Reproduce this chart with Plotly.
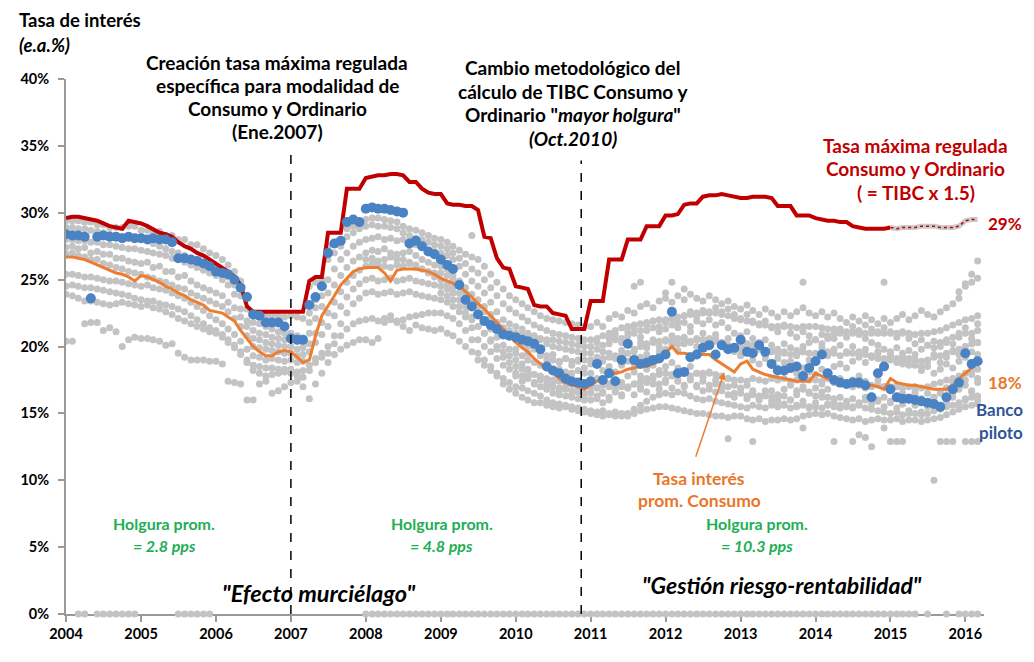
import pandas as pd
import plotly.graph_objects as go

MESES = pd.date_range("2004-01-01", "2016-03-01", freq="MS")
ANIOS = list(range(2004, 2017))
Y_TICKS = [0, 5, 10, 15, 20, 25, 30, 35, 40]
CAMBIO_1 = "2007-01-01"
CAMBIO_2 = "2010-11-16"
INICIO_PROYECCION = 132  # ene-2015: tramo punteado de la tasa máxima

# Tasa máxima regulada consumo y ordinario (e.a. %)
TASA_MAXIMA = [
    29.6, 29.7, 29.7, 29.6, 29.5, 29.4, 29.2, 29.0, 28.9, 28.8, 29.4, 29.3,
    29.2, 29.0, 28.8, 28.5, 28.4, 28.2, 27.8, 27.5, 27.3, 27.0, 26.8, 26.5,
    26.2, 25.9, 25.6, 25.2, 24.6, 23.0, 22.6, 22.6, 22.6, 22.6, 22.6, 22.6,
    22.6, 22.6, 22.6, 24.9, 25.2, 25.2, 28.5, 28.5, 28.5, 31.8, 31.8, 31.8,
    32.6, 32.7, 32.8, 32.8, 32.9, 32.9, 32.8, 32.3, 32.3, 31.8, 31.5, 31.4,
    31.4, 30.7, 30.6, 30.6, 30.5, 30.5, 30.2, 28.2, 28.1, 26.6, 25.9, 25.8,
    24.5, 24.4, 24.3, 23.1, 23.0, 23.0, 22.5, 22.4, 22.3, 21.3, 21.3, 21.3,
    23.4, 23.4, 23.4, 26.5, 26.5, 26.5, 28.0, 28.0, 28.0, 29.0, 29.0, 29.0,
    29.8, 29.8, 29.9, 30.6, 30.7, 30.7, 31.2, 31.3, 31.3, 31.4, 31.3, 31.2,
    31.1, 31.1, 31.2, 31.2, 31.2, 31.1, 30.5, 30.5, 30.5, 29.8, 29.8, 29.8,
    29.6, 29.5, 29.4, 29.4, 29.3, 29.3, 29.0, 28.9, 28.8, 28.8, 28.8, 28.8,
    28.9, 28.8, 28.9, 28.9, 28.9, 29.0, 29.0, 29.0, 28.9, 28.9, 28.9, 29.0,
    29.4, 29.5, 29.5,
]

# Tasa de interés promedio consumo
TASA_CONSUMO = [
    26.7, 26.7, 26.6, 26.5, 26.3, 26.1, 25.9, 25.7, 25.5, 25.4, 25.2, 24.9,
    25.3, 25.2, 25.0, 24.8, 24.5, 24.3, 24.0, 23.8, 23.5, 23.3, 23.1, 22.7,
    22.6, 22.5, 22.2, 21.9, 21.2, 20.6, 20.0, 19.6, 19.3, 19.3, 19.6, 19.7,
    19.6, 19.2, 18.8, 19.0, 20.8, 22.3, 23.0, 23.8, 24.6, 25.1, 25.6, 25.8,
    25.9, 25.9, 25.9, 25.5, 24.9, 25.7, 25.8, 25.8, 25.8, 25.7, 25.6, 25.4,
    25.1, 24.9, 24.7, 24.5, 24.1, 23.7, 23.2, 22.8, 22.3, 21.8, 21.3, 20.8,
    20.3, 19.9, 19.6, 19.1, 18.7, 18.4, 18.0, 17.6, 17.3, 17.1, 17.0, 16.8,
    17.1, 17.4, 17.6, 17.8, 18.0, 18.1, 18.3, 18.4, 18.5, 18.5, 18.7, 18.9,
    19.5, 20.0, 19.5, 19.5, 19.4, 19.4, 19.4, 19.4, 19.0, 18.7, 18.4, 18.1,
    18.7, 18.9, 18.3, 18.1, 17.9, 17.8, 17.7, 17.6, 17.5, 17.4, 17.4, 17.4,
    18.0, 17.8, 17.6, 17.5, 17.4, 17.4, 17.3, 17.3, 17.2, 17.1, 17.0, 16.8,
    17.6, 17.3, 17.2, 17.1, 17.1, 17.0, 16.9, 16.8, 16.8, 16.8, 17.1, 17.6,
    18.0, 18.4, None,
]

# Banco piloto
BANCO_PILOTO = [
    28.4, 28.3, 28.3, 28.2, 23.6, 28.2, 28.3, 28.2, 28.2, 28.1, 28.2, 28.1,
    28.1, 28.0, 28.1, 28.0, 28.0, 27.8, 26.6, 26.6, 26.5, 26.4, 26.2, 26.0,
    25.6, 25.5, 25.4, 25.0, 24.4, 23.7, 22.4, 22.3, 21.8, 21.8, 21.8, 21.5,
    20.6, 20.5, 20.5, 23.1, 23.7, 24.5, 27.0, 27.7, 27.9, 29.3, 29.5, 29.3,
    30.3, 30.4, 30.3, 30.3, 30.2, 30.1, 30.0, 27.7, 27.9, 27.5, 27.1, 26.9,
    26.5, 26.1, 25.8, 24.6, 23.5, 23.0, 22.4, 21.9, 21.6, 21.3, 20.9, 20.8,
    20.7, 20.5, 20.4, 20.2, 19.8, 18.5, 18.2, 18.0, 17.6, 17.4, 17.3, 17.2,
    17.4, 18.7, 17.5, 18.0, 17.4, 19.0, 20.2, 19.0, 18.7, 18.8, 19.0, 19.1,
    19.4, 22.6, 18.0, 18.1, 19.2, 19.4, 19.9, 20.1, 19.4, 20.1, 19.8, 19.9,
    20.5, 19.6, 19.5, 20.1, 19.6, 18.7, 18.2, 18.2, 18.4, 18.5, 17.8, 18.4,
    18.9, 19.4, 18.0, 17.5, 17.3, 17.2, 17.3, 17.3, 17.1, 16.2, 18.0, 18.5,
    16.8, 16.2, 16.1, 16.1, 16.0, 15.9, 15.8, 15.7, 15.5, 16.2, 16.8, 17.3,
    19.5, 18.7, 18.9,
]

# Resto de bancos (puntos grises)
BANCO_01 = [
    29.4, 29.4, 29.4, 29.3, 29.3, 29.1, 29.1, 28.9, 28.9, 28.9, 29.0, 29.0,
    28.7, 28.7, 28.6, 28.6, 28.3, 28.3, 28.0, 28.0, 27.6, 27.6, 27.3, 27.0,
    26.8, 26.5, 26.1, 25.6, 24.9, 23.6, 22.4, 22.4, 22.3, 22.3, 22.3, 22.2,
    22.3, 22.2, 22.1, 24.5, 24.8, 25.0, 27.5, 27.8, 28.0, 28.8, 29.0, 29.2,
    29.5, 29.6, 29.6, 29.5, 29.4, 29.3, 29.0, 28.8, 28.7, 28.5, 28.3, 28.1,
    28.0, 27.8, 27.5, 27.2, 26.9, 26.7, 26.5, 26.0, 25.4, 24.8, 24.3, 23.8,
    23.5, 23.2, 22.9, 22.6, 22.3, 22.1, 22.0, 21.9, 21.8, 21.7, 21.6, 21.5,
    21.5, 21.8, 21.5, 22.1, 22.4, 22.2, 22.7, 22.5, 23.0, 23.2, 22.9, 23.4,
    23.6, 23.3, 23.8, 23.5, 23.9, 23.6, 23.4, 23.8, 23.5, 23.2, 23.4, 23.0,
    22.8, 23.1, 22.7, 22.4, 22.8, 22.5, 22.2, 22.6, 22.3, 22.6, 22.9, 22.5,
    22.3, 22.6, 22.2, 22.5, 22.1, 21.8, 22.2, 21.9, 22.3, 22.0, 21.7, 22.1,
    21.8, 22.1, 22.4, 22.0, 22.3, 22.7, 22.4, 22.2, 22.6, 22.9, 23.2, 23.6,
    24.5, 24.8, 25.1,
]
BANCO_02 = [
    28.9, 28.9, 28.8, 28.8, 28.7, 28.6, 28.5, 28.4, 28.3, 28.2, 28.1, 28.0,
    28.0, 27.9, 27.7, 27.5, 27.3, 27.1, 27.0, 26.8, 26.6, 26.4, 26.2, 26.1,
    26.0, 25.6, 25.2, 24.6, 23.8, 22.8, 21.8, 21.7, 21.5, 21.3, 21.1, 21.0,
    21.0, 20.8, 20.6, 22.5, 23.5, 24.5, 26.5, 27.0, 27.5, 28.2, 28.5, 28.8,
    29.0, 29.1, 29.0, 29.0, 28.9, 28.8, 28.5, 28.3, 28.1, 28.0, 27.8, 27.6,
    27.5, 27.3, 27.0, 26.6, 26.2, 25.8, 25.5, 25.0, 24.4, 23.8, 23.2, 22.8,
    22.5, 22.2, 21.9, 21.6, 21.4, 21.2, 21.0, 20.9, 20.8, 20.7, 20.6, 20.5,
    20.5, 20.6, 20.8, 21.0, 21.2, 21.4, 21.5, 21.6, 21.7, 21.8, 21.9, 22.0,
    22.0, 22.1, 22.2, 22.3, 22.4, 22.5, 22.5, 22.6, 22.5, 22.4, 22.3, 22.1,
    22.0, 21.9, 21.8, 21.7, 21.6, 21.5, 21.5, 21.6, 21.5, 21.4, 21.5, 21.5,
    21.5, 21.4, 21.3, 21.3, 21.2, 21.1, 21.0, 21.1, 21.0, 21.0, 21.1, 21.0,
    21.0, 21.0, 21.1, 21.0, 20.9, 21.0, 21.0, 21.1, 21.2, 21.4, 21.6, 21.8,
    22.0, 22.1, 22.3,
]
BANCO_03 = [
    28.0, 28.0, 27.9, 27.9, 27.8, 27.8, 27.6, 27.6, 27.5, 27.4, 27.3, 27.3,
    27.2, 27.1, 27.0, 26.9, 26.8, 26.6, 26.5, 26.3, 26.1, 25.9, 25.7, 25.5,
    25.3, 25.0, 24.6, 23.9, 22.8, 21.9, 21.2, 21.0, 20.9, 20.7, 20.6, 20.5,
    20.5, 20.4, 20.2, 21.8, 22.9, 23.8, 25.0, 25.8, 26.5, 27.0, 27.5, 27.8,
    28.0, 28.1, 28.2, 28.0, 28.1, 27.9, 28.0, 27.8, 27.6, 27.4, 27.2, 27.1,
    27.0, 26.8, 26.5, 26.0, 25.4, 24.9, 24.5, 24.0, 23.3, 22.6, 22.0, 21.7,
    21.5, 21.3, 21.0, 20.8, 20.5, 20.2, 20.0, 19.9, 19.8, 19.7, 19.6, 19.5,
    19.5, 19.8, 19.6, 20.2, 20.5, 20.3, 20.8, 21.0, 20.7, 21.2, 21.4, 21.1,
    21.3, 21.6, 21.4, 21.8, 21.5, 21.9, 21.7, 22.0, 21.6, 21.8, 21.4, 21.0,
    20.8, 21.1, 20.6, 20.3, 20.5, 20.1, 19.8, 20.2, 19.9, 19.7, 20.0, 20.3,
    20.5, 20.2, 20.8, 20.6, 21.0, 20.7, 21.1, 20.9, 20.6, 20.3, 20.1, 19.8,
    19.6, 19.9, 19.5, 19.7, 19.4, 19.8, 20.1, 19.9, 20.3, 20.5, 20.2, 20.7,
    21.0, 20.6, 21.2,
]
BANCO_04 = [
    27.4, 27.5, 27.3, 27.4, 27.0, 27.1, 26.9, 26.9, 26.6, 26.6, 26.4, 26.3,
    26.2, 26.3, 25.9, 26.0, 25.6, 25.6, 25.2, 25.3, 24.9, 24.6, 24.4, 24.2,
    24.0, 23.8, 23.3, 22.9, 22.2, 21.5, 20.6, 20.5, 20.3, 20.2, 20.1, 20.0,
    20.0, 19.8, 19.9, 21.0, 22.1, 23.0, 24.0, 24.6, 25.3, 25.9, 26.4, 26.7,
    27.0, 27.2, 27.1, 27.3, 27.0, 26.9, 27.0, 27.1, 26.8, 26.5, 26.3, 26.1,
    26.0, 25.8, 25.3, 24.9, 24.4, 23.9, 23.5, 23.0, 22.4, 21.8, 21.2, 20.8,
    20.5, 20.2, 20.0, 19.8, 19.5, 19.3, 19.0, 18.9, 19.1, 18.9, 19.0, 19.0,
    19.0, 18.8, 19.1, 19.2, 19.3, 19.4, 19.5, 19.8, 20.0, 20.2, 20.3, 20.4,
    20.5, 20.4, 20.6, 20.5, 20.3, 20.5, 20.5, 20.6, 20.4, 20.3, 20.1, 20.0,
    20.0, 19.9, 20.1, 19.8, 19.7, 19.6, 19.5, 19.6, 19.4, 19.5, 19.6, 19.5,
    19.5, 19.4, 19.6, 19.5, 19.3, 19.5, 19.5, 19.6, 19.4, 19.2, 19.1, 19.0,
    19.0, 19.1, 18.9, 19.0, 19.0, 18.9, 19.0, 19.2, 19.3, 19.5, 19.6, 19.8,
    20.0, 20.2, 20.3,
]
BANCO_05 = [
    26.9, 27.0, 26.8, 26.7, 26.5, 26.5, 26.2, 26.1, 25.9, 25.8, 25.6, 25.5,
    25.4, 25.2, 25.1, 24.9, 24.8, 24.6, 24.4, 24.3, 24.0, 23.8, 23.6, 23.4,
    23.2, 23.0, 22.6, 22.1, 21.5, 20.8, 20.0, 19.9, 19.8, 19.7, 19.6, 19.5,
    19.5, 19.3, 19.4, 20.2, 21.0, 21.8, 22.5, 23.3, 24.1, 24.8, 25.3, 25.7,
    26.0, 26.2, 26.1, 26.0, 25.9, 26.1, 26.0, 26.2, 25.9, 25.8, 25.6, 25.5,
    25.5, 25.3, 25.0, 24.5, 24.0, 23.2, 22.5, 21.9, 21.3, 20.7, 20.1, 19.8,
    19.5, 19.3, 19.0, 18.8, 18.6, 18.4, 18.2, 18.3, 18.1, 18.0, 18.2, 18.0,
    18.0, 17.6, 18.2, 18.5, 18.1, 18.6, 18.9, 18.7, 19.2, 19.4, 19.1, 19.6,
    19.8, 20.1, 19.7, 20.2, 20.4, 20.0, 20.5, 20.3, 20.6, 20.2, 19.9, 19.6,
    19.3, 19.6, 19.0, 18.7, 19.1, 18.6, 18.4, 18.8, 18.3, 18.0, 18.4, 18.1,
    17.9, 18.3, 18.0, 18.5, 18.7, 18.4, 18.9, 19.2, 18.8, 19.3, 19.5, 19.1,
    19.4, 19.0, 18.7, 19.1, 18.6, 18.2, 18.5, 18.0, 18.3, 18.7, 18.4, 18.9,
    19.2, 18.8, 19.4,
]
BANCO_06 = [
    25.4, 25.4, 25.3, 25.2, 25.2, 25.1, 25.0, 24.9, 24.9, 24.8, 24.7, 24.6,
    24.5, 24.6, 24.4, 24.3, 24.2, 24.0, 23.8, 23.6, 23.3, 23.0, 22.7, 22.3,
    22.0, 21.7, 21.3, 20.9, 20.4, 19.8, 19.3, 19.2, 19.0, 19.1, 19.0, 18.9,
    19.0, 18.8, 18.9, 19.6, 20.3, 20.9, 21.5, 22.3, 23.0, 23.7, 24.3, 24.7,
    25.0, 25.1, 24.9, 25.0, 25.1, 24.9, 25.0, 25.1, 24.9, 24.8, 24.7, 24.6,
    24.5, 24.3, 24.0, 23.5, 23.0, 22.2, 21.5, 21.0, 20.4, 19.8, 19.2, 18.8,
    18.5, 18.3, 18.1, 17.9, 17.8, 17.6, 17.5, 17.4, 17.3, 17.2, 17.1, 17.0,
    17.0, 16.9, 17.1, 17.0, 16.9, 17.0, 17.0, 17.2, 17.4, 17.6, 17.8, 17.9,
    18.0, 17.9, 18.1, 18.0, 17.8, 18.0, 18.0, 18.1, 17.9, 17.8, 17.6, 17.5,
    17.5, 17.4, 17.6, 17.5, 17.4, 17.6, 17.5, 17.6, 17.4, 17.5, 17.6, 17.5,
    17.5, 17.4, 17.6, 17.3, 17.2, 17.1, 17.0, 17.1, 16.9, 17.0, 17.1, 17.0,
    17.0, 17.1, 16.9, 17.0, 17.0, 16.9, 17.0, 17.2, 17.3, 17.5, 17.6, 17.8,
    18.0, 18.2, 18.3,
]
BANCO_07 = [
    24.5, 24.6, 24.5, 24.4, 24.4, 24.3, 24.2, 24.1, 24.0, 23.9, 23.8, 23.6,
    23.5, 23.4, 23.4, 23.2, 23.1, 23.0, 22.8, 22.6, 22.3, 22.0, 21.7, 21.4,
    21.2, 20.9, 20.5, 20.1, 19.6, 19.0, 18.6, 18.5, 18.4, 18.4, 18.3, 18.3,
    18.3, 18.1, 18.2, 18.6, 19.1, 19.5, 20.0, 20.8, 21.7, 22.5, 23.2, 23.6,
    24.0, 24.1, 23.9, 24.0, 24.1, 23.9, 24.0, 24.1, 23.9, 23.8, 23.7, 23.6,
    23.5, 23.3, 23.0, 22.6, 22.2, 21.4, 20.5, 20.0, 19.6, 19.1, 18.6, 18.3,
    18.0, 17.8, 17.6, 17.3, 17.0, 16.8, 16.5, 16.4, 16.3, 16.2, 16.1, 16.0,
    16.0, 16.3, 15.8, 16.2, 16.6, 16.4, 16.9, 17.2, 16.8, 17.3, 17.6, 17.2,
    17.5, 17.8, 17.4, 17.1, 17.5, 17.0, 16.7, 17.1, 16.6, 16.9, 16.4, 16.2,
    16.5, 16.1, 16.4, 16.0, 16.3, 16.7, 16.4, 16.8, 17.1, 16.7, 17.0, 16.6,
    16.3, 16.6, 16.2, 15.9, 16.2, 15.8, 16.1, 15.7, 16.0, 16.3, 15.9, 16.2,
    15.8, 16.1, 15.7, 16.0, 16.4, 16.1, 16.5, 16.2, 16.6, 16.9, 16.5, 16.8,
    17.1, 16.7, 17.3,
]
BANCO_08 = [
    23.9, 23.8, 23.6, 23.4, 23.4, 23.3, 23.2, 23.1, 23.2, 23.3, 23.2, 23.1,
    23.0, 23.1, 22.9, 22.8, 22.6, 22.4, 22.1, 21.9, 21.7, 21.5, 21.3, 21.1,
    21.0, 20.7, 20.3, 19.9, 19.4, 18.8, 18.2, 18.0, 17.8, 17.9, 18.0, 18.1,
    18.0, 17.8, 17.7, 18.2, 18.8, 19.2, 19.5, 20.2, 20.8, 21.3, 21.7, 21.9,
    22.0, 22.1, 21.9, 22.1, 22.0, 21.8, 22.0, 22.2, 22.3, 22.4, 22.5, 22.5,
    22.5, 22.3, 22.1, 21.7, 21.2, 20.5, 19.5, 19.0, 18.5, 18.0, 17.6, 17.3,
    17.0, 16.9, 16.7, 16.5, 16.3, 16.0, 15.8, 15.7, 15.6, 15.5, 15.4, 15.3,
    15.2, 15.1, 15.2, 15.0, 15.1, 15.0, 15.0, 15.3, 15.6, 15.9, 16.2, 16.4,
    16.5, 16.4, 16.6, 16.5, 16.3, 16.1, 16.0, 16.1, 15.9, 15.8, 15.7, 15.6,
    15.5, 15.4, 15.6, 15.5, 15.4, 15.6, 15.5, 15.6, 15.4, 15.5, 15.6, 15.5,
    15.5, 15.4, 15.6, 15.5, 15.4, 15.5, 15.5, 15.6, 15.4, 15.3, 15.2, 15.1,
    15.0, 15.1, 14.9, 15.0, 15.0, 14.9, 15.0, 15.2, 15.3, 15.5, 15.6, 15.8,
    16.0, 16.2, 16.3,
]
BANCO_09 = [
    20.4, 20.4, None, 21.7, 21.8, 21.8, 21.2, 21.4, 21.1, 20.0, 20.5, 20.7,
    20.6, 20.6, 20.5, 20.4, 20.1, 20.2, 19.5, 19.2, 19.0, 19.0, 19.0, 18.9,
    18.9, 18.7, 17.4, 17.3, 17.2, 16.0, 16.0, 17.2, 17.4, 16.5, 16.7, 17.0,
    17.3, 17.4, 17.0, 16.1, 17.2, 18.0, 18.8, 19.4, 19.8, 20.1, 20.3, 20.5,
    20.5, 20.3, 20.6, 21.8, 22.3, 21.9, 21.5, 21.2, 21.6, 21.4, 21.3, 21.2,
    21.3, 21.0, 20.8, 20.4, 20.0, 19.6, 19.0, 18.6, 18.2, 17.8, 17.2, 16.8,
    16.5, 16.2, 16.0, 15.8, 15.8, 15.6, 15.5, 15.4, 15.5, 15.3, 15.2, 15.1,
    15.0, 14.9, 14.8, 14.9, 14.8, 14.8, 14.8, 15.0, 15.2, 15.3, 15.4, 15.5,
    15.5, 15.4, 15.3, 15.2, 15.1, 15.0, 15.0, 14.9, 14.8, 14.8, 14.7, 14.8,
    14.8, 14.6, 14.5, 14.6, 14.4, 14.5, 14.5, 14.6, 14.5, 14.6, 14.8, 14.9,
    15.0, 14.9, 15.0, 14.8, 14.7, 14.6, 14.5, 14.6, 14.4, 14.5, 14.6, 14.5,
    14.5, 14.6, 14.4, 14.5, 14.5, 14.4, 14.5, 14.6, 14.7, 14.9, 15.1, 15.3,
    15.5, 15.6, 15.7,
]
BANCO_10 = [None] * 48 + [
    26.5, 26.6, 26.4, 26.5, 26.7, 26.5, 26.5, 26.3, 26.1, 25.8, 25.5, 25.2,
    25.0, 24.7, 24.4, 24.0, 23.6, 23.3, 23.0, 22.6, 22.2, 21.8, 21.4, 21.2,
    21.0, 20.9, 20.8, 20.7, 20.6, 20.5, 20.5, 20.4, 20.3, 20.2, 20.1, 20.0,
    20.0, 20.3, 20.1, 20.6, 20.9, 20.6, 21.1, 21.4, 21.2, 21.6, 21.9, 21.5,
    21.8, 22.1, 21.8, 22.3, 22.6, 22.2, 22.7, 22.5, 22.9, 22.6, 22.8, 22.4,
    22.1, 22.4, 21.9, 21.6, 21.9, 21.4, 21.1, 21.5, 21.0, 20.7, 21.1, 20.8,
    20.5, 20.9, 20.6, 21.0, 21.3, 21.0, 21.5, 21.2, 21.6, 21.3, 21.0, 21.4,
    21.1, 20.7, 21.0, 20.6, 20.2, 20.5, 20.1, 20.4, 20.0, 20.3, 20.7, 21.0,
    21.4, 21.0, 21.7,
]
BANCO_11 = [None] * 60 + [
    24.0, 23.8, 23.5, 23.0, 22.5, 22.0, 21.5, 21.0, 20.5, 20.0, 19.6, 19.3,
    19.0, 18.7, 18.3, 17.9, 17.5, 17.2, 17.0, 16.9, 16.8, 16.7, 16.6, 16.5,
    16.5, 16.9, 16.6, 17.2, 17.5, 17.3, 17.8, 18.1, 17.8, 18.3, 18.6, 18.2,
    18.5, 18.8, 18.4, 18.1, 18.5, 18.0, 17.7, 18.0, 17.5, 17.2, 17.6, 17.1,
    16.8, 17.1, 16.6, 16.3, 16.7, 16.2, 15.9, 16.3, 16.0, 16.4, 16.8, 16.5,
    16.9, 17.2, 16.8, 17.3, 17.6, 17.2, 17.5, 17.8, 17.4, 17.1, 17.5, 17.0,
    16.7, 17.0, 16.5, 16.2, 16.6, 16.1, 15.8, 16.2, 16.5, 16.9, 17.3, 17.0,
    17.5, 17.9, 17.6,
]
BANCO_12 = [None] * 72 + [
    19.8, 20.2, 19.5, 19.9, 19.3, 19.0, 19.4, 18.8, 19.1, 18.6, 18.9, 18.4,
    18.7, 19.2, 18.9, 19.5, 19.1, 19.7, 20.1, 19.6, 20.3, 19.9, 20.5, 20.0,
    20.4, 20.8, 20.2, 20.7, 21.1, 20.6, 21.0, 20.5, 20.9, 20.3, 20.6, 20.0,
    19.7, 20.2, 19.6, 19.9, 19.3, 19.7, 19.1, 19.5, 18.9, 19.3, 19.6, 19.0,
    19.4, 19.9, 19.3, 19.8, 20.1, 19.6, 20.0, 19.5, 19.8, 19.2, 19.6, 19.0,
    19.3, 18.8, 19.2, 18.6, 19.0, 18.5, 18.9, 19.4, 18.8, 19.2, 19.7, 19.4,
    20.0, 19.6, 20.3,
]
BANCO_13 = [None] * 72 + [
    17.8, 17.4, 17.9, 17.2, 17.6, 16.9, 17.3, 16.7, 17.0, 16.4, 16.8, 16.2,
    16.6, 16.1, 16.5, 16.0, 16.7, 16.3, 16.9, 16.4, 17.0, 16.6, 17.2, 16.8,
    17.3, 16.9, 17.5, 17.0, 17.6, 17.1, 17.4, 16.8, 17.2, 16.7, 17.0, 16.5,
    16.9, 16.3, 16.7, 16.1, 16.5, 15.9, 16.2, 15.7, 16.0, 15.6, 15.9, 15.4,
    15.8, 16.2, 15.7, 16.1, 15.6, 15.9, 15.4, 15.8, 16.2, 15.7, 16.0, 15.5,
    15.9, 15.4, 15.7, 15.2, 15.6, 15.1, 15.5, 15.9, 15.4, 15.8, 16.2, 15.7,
    16.1, 16.6, 16.0,
]
# Bancos sin dato reportado (aparecen en 0%)
BANCO_SIN_DATO = (
    [None, None, 0, 0, None, 0, 0, 0, 0, 0, 0, 0]
    + [None] * 6 + [0] * 6
    + [None] * 24
    + [0] * 84
    + [0, 0, 0, 0, 0, None, 0, None, None, 0, None, 0]
    + [0, 0, 0]
)
# Observaciones aisladas
ATIPICOS_ALTOS_FECHAS = ["2009-06-01", "2011-08-01", "2011-09-01", "2012-01-01",
                         "2012-02-01", "2012-04-01", "2013-11-01", "2014-12-01",
                         "2015-12-01", "2016-01-01", "2016-02-01", "2016-03-01"]
ATIPICOS_ALTOS = [28.3, 24.5, 24.8, 24.0, 24.8, 24.3, 24.8, 24.8, 24.1, 24.7, 25.4, 26.4]
ATIPICOS_BAJOS_FECHAS = ["2012-11-01", "2013-03-01", "2013-11-01", "2014-04-01",
                         "2014-07-01", "2014-08-01", "2014-09-01", "2014-10-01",
                         "2014-12-01", "2015-01-01", "2015-02-01", "2015-03-01",
                         "2015-08-01", "2015-09-01", "2015-10-01", "2015-11-01",
                         "2016-01-01", "2016-02-01", "2016-03-01"]
ATIPICOS_BAJOS = [13.1, 12.9, 13.9, 12.9, 12.9, 13.4, 13.2, 12.5, 13.9, 12.9,
                  12.9, 12.9, 10.0, 12.9, 12.9, 12.9, 12.9, 12.9, 12.9]

BANCOS = [BANCO_01, BANCO_02, BANCO_03, BANCO_04, BANCO_05, BANCO_06, BANCO_07,
          BANCO_08, BANCO_09, BANCO_10, BANCO_11, BANCO_12, BANCO_13]

RED, ORANGE, BLUE, GRAY = "#C00000", "#ED7D31", "#4A83C4", "#C3C3C3"
GREEN, NAVY, TXT_ORANGE = "#22AE55", "#2F5597", "#E8772A"
FONT = "Lato"

# píxeles de la página: el body del html deja 8 px de margen a cada lado
PAGE_W, PAGE_H, OFF = 1034, 662, 8
PL, PR, PT, PB = 58, 984, 79, 630

fig = go.Figure()

gray_marker = dict(size=7, color=GRAY)
for serie in BANCOS:
    fig.add_trace(go.Scatter(x=MESES, y=serie, mode="markers", marker=gray_marker,
                             hoverinfo="skip"))
fig.add_trace(go.Scatter(x=pd.to_datetime(ATIPICOS_ALTOS_FECHAS), y=ATIPICOS_ALTOS,
                         mode="markers", marker=gray_marker))
fig.add_trace(go.Scatter(x=pd.to_datetime(ATIPICOS_BAJOS_FECHAS), y=ATIPICOS_BAJOS,
                         mode="markers", marker=gray_marker))
fig.add_trace(go.Scatter(x=MESES, y=BANCO_SIN_DATO, mode="markers", marker=gray_marker,
                         cliponaxis=False))

# tasa máxima: tramo observado y tramo punteado final
k = INICIO_PROYECCION
fig.add_trace(go.Scatter(x=MESES[:k + 1], y=TASA_MAXIMA[:k + 1], mode="lines",
                         line=dict(color=RED, width=4)))
fig.add_trace(go.Scatter(x=MESES[k:], y=TASA_MAXIMA[k:], mode="lines",
                         line=dict(color="#CBCBCB", width=5)))
fig.add_trace(go.Scatter(x=MESES[k:], y=TASA_MAXIMA[k:], mode="lines",
                         line=dict(color=RED, width=1.5, dash="dot")))

fig.add_trace(go.Scatter(x=MESES, y=TASA_CONSUMO, mode="lines",
                         line=dict(color=ORANGE, width=3)))
fig.add_trace(go.Scatter(x=MESES, y=BANCO_PILOTO, mode="markers",
                         marker=dict(size=10, color=BLUE)))

for fecha, top in [(CAMBIO_1, 152), (CAMBIO_2, 163)]:
    fig.add_shape(type="line", xref="x", yref="paper", x0=fecha, x1=fecha,
                  y0=0, y1=(PB - top) / (PB - PT),
                  line=dict(color="black", width=1.5, dash="dash"))


def note(px, py, text, color="black", size=19, xanchor="center"):
    fig.add_annotation(x=(px - PL) / (PR - PL), y=(PB - py) / (PB - PT),
                       xref="paper", yref="paper", text=text, showarrow=False,
                       xanchor=xanchor, yanchor="middle",
                       font=dict(family=FONT, size=size, color=color))


note(9, 18, "<b>Tasa de interés</b>", size=18.5, xanchor="left")
note(9, 44, "<b><i>(e.a.%)</i></b>", size=18.5, xanchor="left")

for i, t in enumerate(["Creación tasa máxima regulada", "específica para modalidad de",
                       "Consumo y Ordinario", "(Ene.2007)"]):
    note(271, 62 + i * 23.8, f"<b>{t}</b>")
for i, t in enumerate(["Cambio metodológico del", "cálculo de TIBC Consumo y",
                       'Ordinario "<i>mayor holgura</i>"', "<i>(Oct.2010)</i>"]):
    note(569, 67 + i * 24.5, f"<b>{t}</b>")
for i, t in enumerate(["Tasa máxima regulada", "Consumo y Ordinario", "( = TIBC x 1.5)"]):
    note(915, 147 + i * 24.5, f"<b>{t}</b>", color=RED)

note(1005, 228, "<b>29%</b>", color=RED, size=17)
note(1005, 392, "<b>18%</b>", color=TXT_ORANGE, size=17)
note(1025, 419, "<b>Banco</b>", color=NAVY, size=17, xanchor="right")
note(1025, 443, "<b>piloto</b>", color=NAVY, size=17, xanchor="right")

note(697, 490, "<b>Tasa interés</b>", color=TXT_ORANGE, size=17.5)
note(697, 513, "<b>prom. Consumo</b>", color=TXT_ORANGE, size=17.5)
fig.add_annotation(x=(722 - PL) / (PR - PL), y=(PB - 381) / (PB - PT), xref="paper",
                   yref="paper", ax=-29, ay=86, text="", showarrow=True,
                   arrowhead=2, arrowsize=1, arrowwidth=1.5, arrowcolor=ORANGE)

for cx, pps in [(157, "2.8"), (437, "4.8"), (755, "10.3")]:
    note(cx, 537, "<b>Holgura prom.</b>", color=GREEN, size=16)
    note(cx, 559, f"<b><i>= {pps} pps</i></b>", color=GREEN, size=16)

note(313, 608, '<b><i>"Efecto murciélago"</i></b>', size=23.5)
note(780, 600, '<b><i>"Gestión riesgo-rentabilidad"</i></b>', size=23)

fig.update_layout(
    width=PAGE_W - 2 * OFF, height=PAGE_H - 2 * OFF,
    paper_bgcolor="white", plot_bgcolor="white",
    margin=dict(l=PL - OFF, r=PAGE_W - OFF - PR, t=PT - OFF, b=PAGE_H - OFF - PB, pad=0),
    font=dict(family=FONT, color="black"),
    showlegend=False,
)
fig.update_xaxes(
    type="date", range=["2004-01-01", "2016-04-01"],
    tickvals=[f"{a}-01-01" for a in ANIOS], ticktext=[str(a) for a in ANIOS],
    tickfont=dict(family=FONT, size=14.5, color="black", weight="bold"),
    showgrid=False, zeroline=False, showline=True, linecolor="#9A9A9A", linewidth=2,
    ticks="outside", ticklen=6, tickcolor="#9A9A9A", tickwidth=1.5,
    layer="below traces",
)
fig.update_yaxes(
    range=[0, 40], tickvals=Y_TICKS, ticktext=[f"{v}%" for v in Y_TICKS],
    tickfont=dict(family=FONT, size=14.5, color="black", weight="bold"),
    showgrid=False, zeroline=False, showline=True, linecolor="#9A9A9A", linewidth=2,
    ticks="outside", ticklen=6, tickcolor="#9A9A9A", tickwidth=1.5,
    ticklabelstandoff=6,
)

fig.write_html("out.html")
